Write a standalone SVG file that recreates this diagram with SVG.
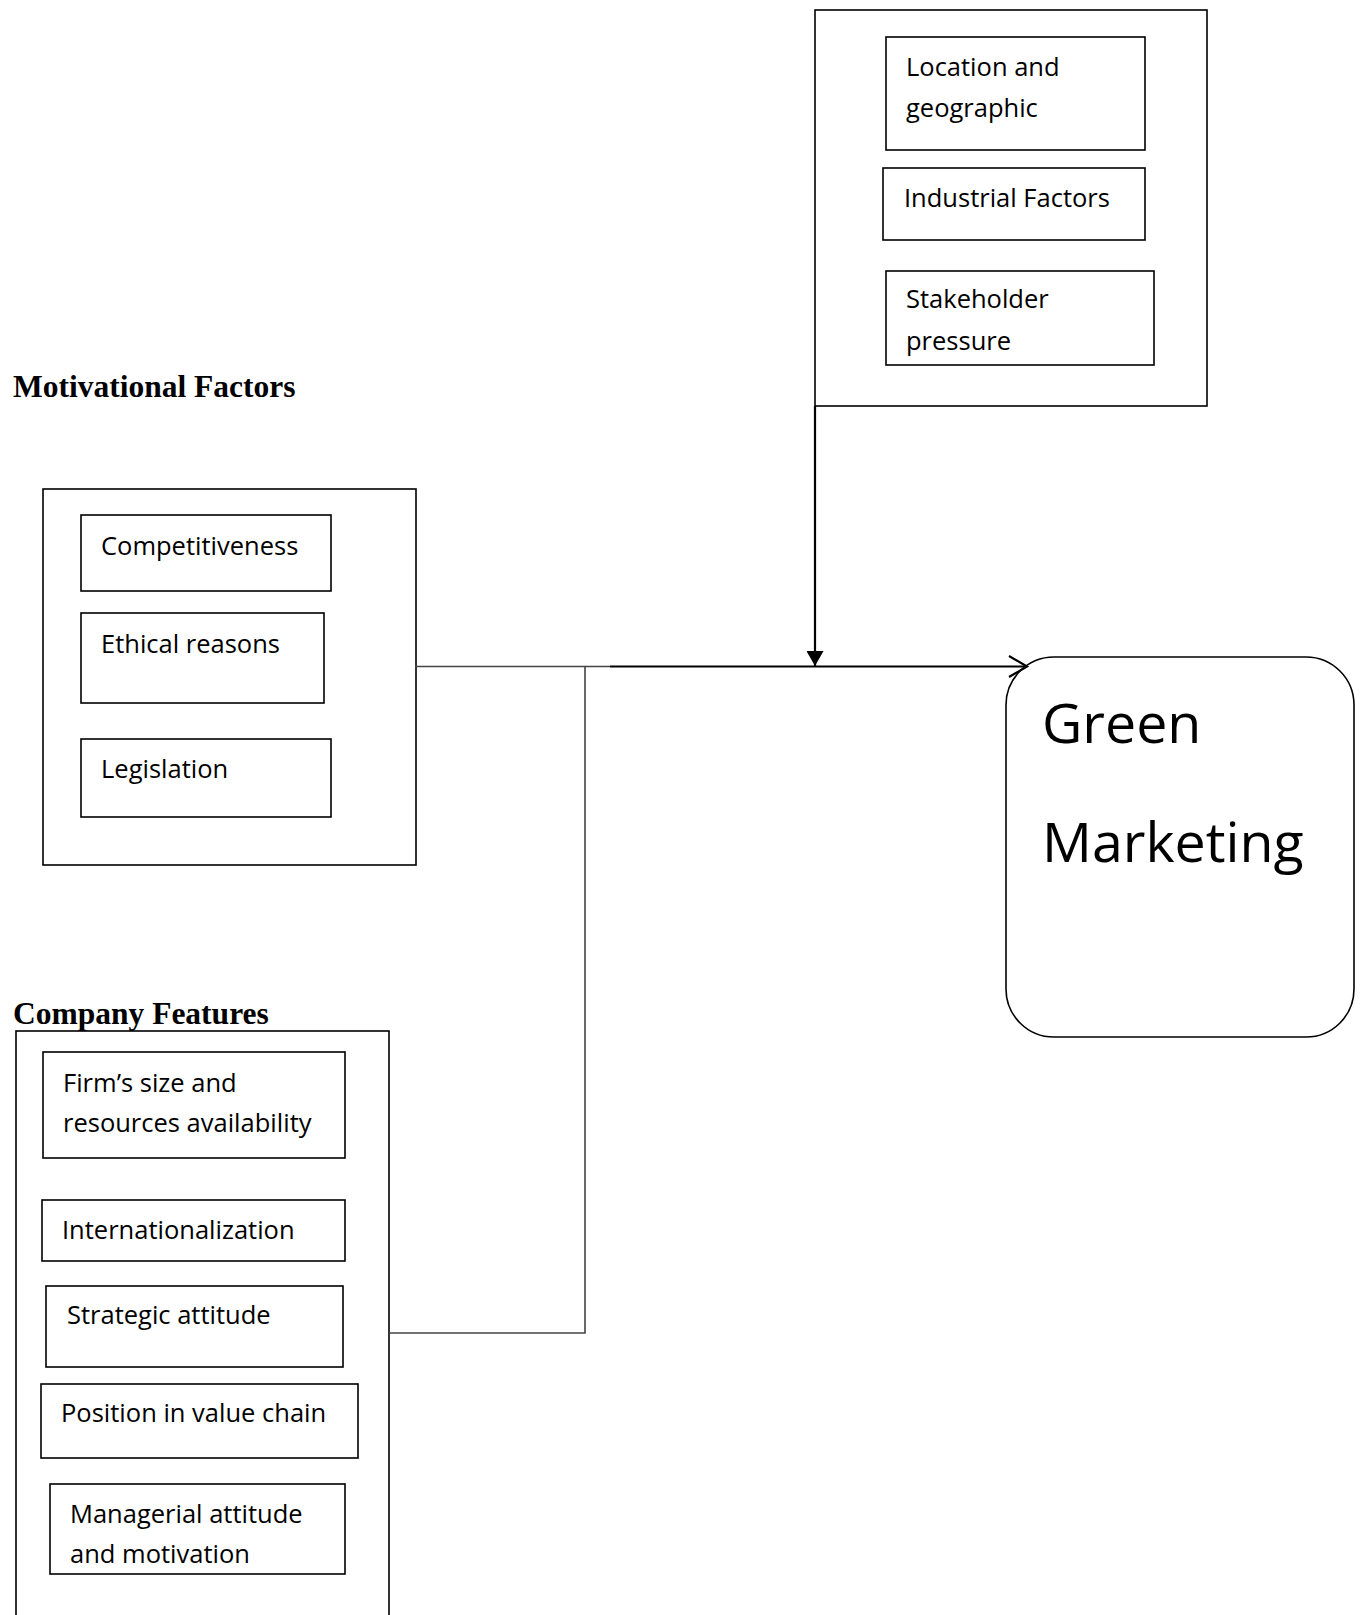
<svg xmlns="http://www.w3.org/2000/svg" width="1362" height="1615" viewBox="0 0 1362 1615">
  <style>
    .box { fill: #ffffff; stroke: #000000; stroke-width: 1.6; }
    .inner { fill: #ffffff; stroke: #000000; stroke-width: 1.6; }
    .t { font-family: "Open Sans", "Liberation Sans", sans-serif; font-size: 25.5px; fill: #000000; }
    .big { font-family: "Open Sans", "Liberation Sans", sans-serif; font-size: 55.5px; fill: #000000; }
    .head { font-family: "Liberation Serif", "Times New Roman", serif; font-size: 31.5px; font-weight: bold; fill: #000000; }
    .thin { stroke: #444444; stroke-width: 1.6; fill: none; }
    .thick { stroke: #000000; stroke-width: 2.2; fill: none; }
  </style>
  <defs>
    <marker id="solidHead" markerUnits="userSpaceOnUse" markerWidth="16" markerHeight="17" refX="15" refY="8.5" orient="auto">
      <path d="M0,0 L15,8.5 L0,17 Z" fill="#000000"/>
    </marker>
  </defs>
  <rect width="1362" height="1615" fill="#ffffff"/>

  <g id="external-factors">
    <rect class="box" x="815" y="10" width="392" height="396"/>
    <g id="location">
      <rect class="inner" x="886" y="37" width="259" height="113"/>
      <text class="t" x="906" y="76">Location and</text>
      <text class="t" x="906" y="117">geographic</text>
    </g>
    <g id="industrial">
      <rect class="inner" x="883" y="168" width="262" height="72"/>
      <text class="t" x="904" y="207">Industrial Factors</text>
    </g>
    <g id="stakeholder">
      <rect class="inner" x="886" y="271" width="268" height="94"/>
      <text class="t" x="906" y="308">Stakeholder</text>
      <text class="t" x="906" y="350">pressure</text>
    </g>
  </g>

  <g id="motivational-factors">
    <text class="head" x="13" y="397">Motivational Factors</text>
    <rect class="box" x="43" y="489" width="373" height="376"/>
    <g id="competitiveness">
      <rect class="inner" x="81" y="515" width="250" height="76"/>
      <text class="t" x="101" y="555">Competitiveness</text>
    </g>
    <g id="ethical">
      <rect class="inner" x="81" y="613" width="243" height="90"/>
      <text class="t" x="101" y="653">Ethical reasons</text>
    </g>
    <g id="legislation">
      <rect class="inner" x="81" y="739" width="250" height="78"/>
      <text class="t" x="101" y="778">Legislation</text>
    </g>
  </g>

  <g id="company-features">
    <text class="head" x="13" y="1024">Company Features</text>
    <rect class="box" x="16" y="1031" width="373" height="600"/>
    <g id="firm-size">
      <rect class="inner" x="43" y="1052" width="302" height="106"/>
      <text class="t" x="63" y="1092">Firm’s size and</text>
      <text class="t" x="63" y="1132">resources availability</text>
    </g>
    <g id="internationalization">
      <rect class="inner" x="42" y="1200" width="303" height="61"/>
      <text class="t" x="62" y="1239">Internationalization</text>
    </g>
    <g id="strategic">
      <rect class="inner" x="46" y="1286" width="297" height="81"/>
      <text class="t" x="67" y="1324">Strategic attitude</text>
    </g>
    <g id="position">
      <rect class="inner" x="41" y="1384" width="317" height="74"/>
      <text class="t" x="61" y="1422">Position in value chain</text>
    </g>
    <g id="managerial">
      <rect class="inner" x="50" y="1484" width="295" height="90"/>
      <text class="t" x="70" y="1523">Managerial attitude</text>
      <text class="t" x="70" y="1563">and motivation</text>
    </g>
  </g>

  <g id="green-marketing">
    <rect class="box" x="1006" y="657" width="348" height="380" rx="48" ry="48"/>
    <text class="big" x="1042" y="743">Green</text>
    <text class="big" x="1042" y="862">Marketing</text>
  </g>

  <g id="connectors">
    <path class="thin" d="M415,666.5 L610,666.5"/>
    <path class="thin" d="M389,1333 L585,1333 L585,666.5"/>
    <path class="thick" d="M610,666.5 L1026,666.5"/>
    <path class="thick" d="M1009,656 L1027,666.5 L1009,677" stroke-width="2"/>
    <path class="thick" d="M815,406 L815,666" marker-end="url(#solidHead)"/>
  </g>
</svg>
